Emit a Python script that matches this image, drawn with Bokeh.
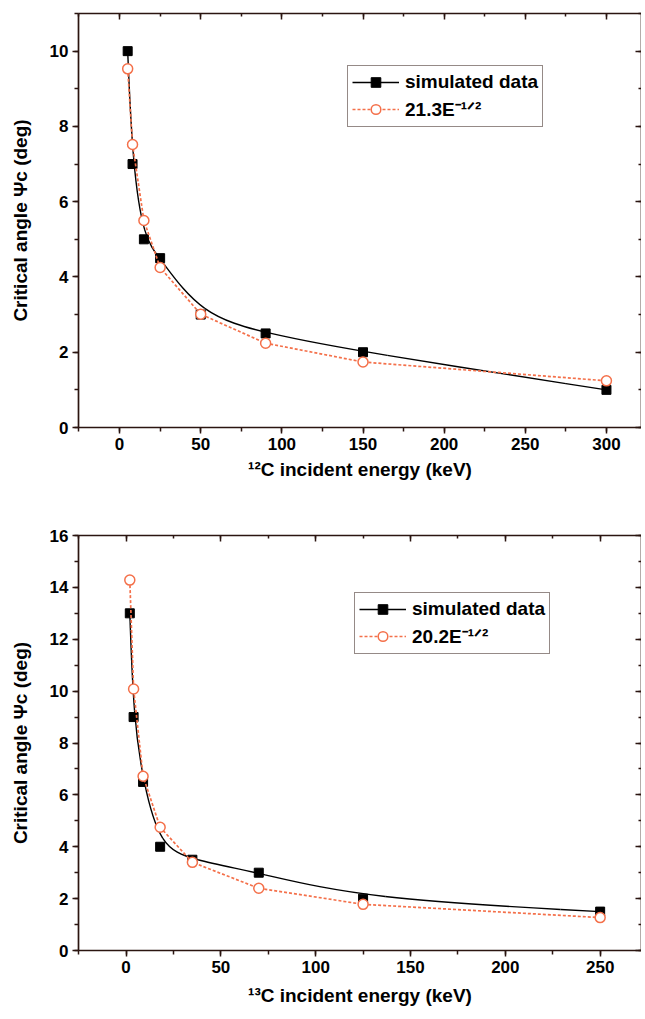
import numpy as np
from bokeh.plotting import figure
from bokeh.layouts import column
from bokeh.models import (LinearAxis, SingleIntervalTicker, Range1d, Legend, LegendItem,
                          ColumnDataSource)
from bokeh.embed import file_html
from bokeh.resources import INLINE

# ---- data: top panel (12C) ----
e12 = [5, 8, 15, 25, 50, 90, 150, 300]
sim12 = [10.0, 7.0, 5.0, 4.5, 3.0, 2.5, 2.0, 1.0]
fit12 = [9.53, 7.52, 5.5, 4.25, 3.01, 2.24, 1.74, 1.24]

# ---- data: bottom panel (13C) ----
e13 = [2, 4, 9, 18, 35, 70, 125, 250]
sim13 = [13.0, 9.0, 6.5, 4.0, 3.5, 3.0, 2.0, 1.5]
fit13 = [14.28, 10.08, 6.72, 4.75, 3.4, 2.4, 1.78, 1.27]

xlabel12 = "¹²C incident energy (keV)"
xlabel13 = "¹³C incident energy (keV)"
ylabel = "Critical angle Ψc (deg)"
leg_sim = "simulated data"
leg_fit12 = "21.3E⁻¹ᐟ²"
leg_fit13 = "20.2E⁻¹ᐟ²"

AX = "#2b1510"
OR = "#f4704a"
FONT = "Liberation Sans"


def bspline_segments(xs, ys):
    """Bezier pieces of a clamped uniform cubic B-spline whose control points are the data
    (the 'B-spline' connect style of the original line)."""
    P = np.column_stack([xs, ys]).astype(float)
    P = np.vstack([P[:1], P[:1], P, P[-1:], P[-1:]])
    A, B, C, D = P[:-3], P[1:-2], P[2:-1], P[3:]
    S = (A + 4 * B + C) / 6
    c0 = (2 * B + C) / 3
    c1 = (B + 2 * C) / 3
    E = (B + 4 * C + D) / 6
    return dict(x0=S[:, 0], y0=S[:, 1], x1=E[:, 0], y1=E[:, 1],
                cx0=c0[:, 0], cy0=c0[:, 1], cx1=c1[:, 0], cy1=c1[:, 1])


def style_axis(ax, labels=True):
    ax.axis_line_color = AX
    ax.axis_line_width = 1.7
    ax.major_tick_line_color = AX
    ax.minor_tick_line_color = AX
    ax.major_tick_line_width = 1.5
    ax.minor_tick_line_width = 1.5
    if labels:
        ax.major_tick_out = 6
        ax.major_tick_in = 0
        ax.minor_tick_out = 4
        ax.minor_tick_in = 0
        ax.major_label_text_font = FONT
        ax.major_label_text_font_size = "17px"
        ax.major_label_text_font_style = "bold"
        ax.major_label_text_color = "black"
        ax.major_label_standoff = 4
        ax.axis_label_text_font = FONT
        ax.axis_label_text_font_size = "19px"
        ax.axis_label_text_font_style = "bold"
        ax.axis_label_text_color = "black"
    else:
        ax.major_tick_out = 0
        ax.major_tick_in = 6
        ax.minor_tick_out = 0
        ax.minor_tick_in = 3
        ax.major_label_text_font_size = "0px"
        ax.major_label_text_color = None
        ax.major_label_standoff = 0


def build(xs, sim, fit, xr, yr, yint, fh, xlabel, fitlabel, btop, bbot, leg_loc, xstand):
    p = figure(frame_width=563, frame_height=fh,
               x_range=Range1d(*xr), y_range=Range1d(*yr),
               output_backend="svg", toolbar_location=None,
               min_border_left=78, min_border_right=0,
               min_border_top=btop, min_border_bottom=bbot)
    p.grid.visible = False
    p.outline_line_color = None
    p.background_fill_color = "white"
    p.border_fill_color = "white"

    xa = p.xaxis[0]
    ya = p.yaxis[0]
    xa.ticker = SingleIntervalTicker(interval=50, num_minor_ticks=2)
    ya.ticker = SingleIntervalTicker(interval=yint, num_minor_ticks=2)
    style_axis(xa)
    style_axis(ya)
    xa.axis_label = xlabel
    xa.axis_label_standoff = xstand
    ya.axis_label = ylabel
    ya.axis_label_standoff = 16

    top = LinearAxis(ticker=SingleIntervalTicker(interval=50, num_minor_ticks=2))
    right = LinearAxis(ticker=SingleIntervalTicker(interval=yint, num_minor_ticks=2))
    style_axis(top, labels=False)
    style_axis(right, labels=False)
    p.add_layout(top, "above")
    p.add_layout(right, "right")

    bz = bspline_segments(xs, sim)
    p.bezier(x0=bz["x0"], y0=bz["y0"], x1=bz["x1"], y1=bz["y1"],
             cx0=bz["cx0"], cy0=bz["cy0"], cx1=bz["cx1"], cy1=bz["cy1"],
             line_color="black", line_width=1.4)
    # a line renderer with no drawable points, used only for the legend swatch
    leg_src = ColumnDataSource(dict(x=np.array([np.nan]), y=np.array([np.nan])))
    leg_line = p.line("x", "y", source=leg_src, line_color="black", line_width=1.4)

    src_sim = ColumnDataSource(dict(x=xs, y=sim))
    src_fit = ColumnDataSource(dict(x=xs, y=fit))
    sq = p.scatter("x", "y", source=src_sim, marker="square", size=9,
                   fill_color="black", line_color="black")
    dl = p.line("x", "y", source=src_fit, line_color=OR, line_width=1.7, line_dash="3 2")
    ci = p.scatter("x", "y", source=src_fit, marker="circle", size=10, fill_color="white",
                   line_color=OR, line_width=1.5)

    legend = Legend(items=[LegendItem(label=leg_sim, renderers=[leg_line, sq]),
                           LegendItem(label=fitlabel, renderers=[dl, ci])],
                    location=leg_loc)
    legend.label_text_font = FONT
    legend.label_text_font_size = "19px"
    legend.label_text_font_style = "bold"
    legend.label_text_color = "black"
    legend.glyph_width = 47
    legend.glyph_height = 24
    legend.label_height = 24
    legend.label_standoff = 6
    legend.padding = 4
    legend.spacing = 2
    legend.margin = 0
    legend.border_line_color = AX
    legend.border_line_width = 1.5
    legend.background_fill_color = "white"
    legend.background_fill_alpha = 1.0
    p.add_layout(legend)
    return p


p1 = build(e12, sim12, fit12, (-25.3, 321.6), (0, 11), 2, 414,
           xlabel12, leg_fit12, 13, 83, (269, 300), 6)
p2 = build(e13, sim13, fit13, (-25.05, 271.8), (0, 16), 2, 415,
           xlabel13, leg_fit13, 25, 61, (276, 296), 9)

layout = column(p1, p2)
open("out.html", "w").write(file_html(layout, INLINE))
